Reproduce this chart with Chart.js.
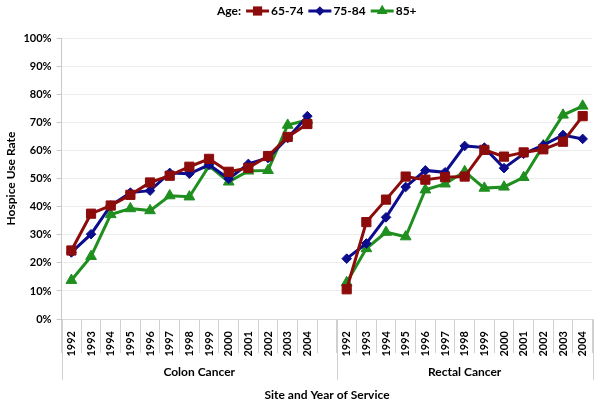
<!DOCTYPE html>
<html>
<head>
<meta charset="utf-8">
<script src="https://cdn.jsdelivr.net/npm/chart.js@4.4.0/dist/chart.umd.min.js"></script>
<style>
  html, body { margin: 0; padding: 0; background: #fff; }
  #wrap { width: 600px; height: 406px; position: relative; }
</style>
</head>
<body>
<div id="wrap"><canvas id="hospice-chart"></canvas></div>
<script>
// Years shown under each cancer site
const years = ['1992', '1993', '1994', '1995', '1996', '1997', '1998', '1999', '2000', '2001', '2002', '2003', '2004'];
const sites = ['Colon Cancer', 'Rectal Cancer'];
const ageGroups = ['65-74', '75-84', '85+'];
const yTicks = [0, 10, 20, 30, 40, 50, 60, 70, 80, 90, 100];

// Hospice use rate (%) by age group
const colon6574 = [24.4, 37.5, 40.4, 44.2, 48.6, 51.0, 54.2, 57.0, 52.4, 53.8, 58.0, 64.8, 69.4];
const colon7584 = [23.7, 30.2, 40.4, 45.0, 45.7, 52.0, 51.7, 54.9, 49.9, 55.2, 57.3, 64.4, 72.2];
const colon85 = [13.8, 22.3, 37.2, 39.3, 38.6, 43.9, 43.5, 54.5, 48.8, 52.7, 52.9, 69.0, 70.8];
const rectal6574 = [10.6, 34.5, 42.5, 50.7, 49.6, 50.5, 50.7, 60.2, 57.8, 59.3, 60.4, 63.1, 72.2];
const rectal7584 = [21.5, 26.9, 36.2, 47.0, 52.9, 52.2, 61.6, 61.0, 53.7, 58.8, 61.9, 65.5, 64.1];
const rectal85 = [13.0, 25.1, 30.9, 29.3, 46.0, 48.1, 52.5, 46.6, 47.0, 50.4, 61.7, 72.6, 75.8];

const colors = ['#8c0c0c', '#0c0c8c', '#1f8f1f'];
const shapes = ['rect', 'rectRot', 'triangle'];
const radii = [6.5, 4.8, 6.2];

// one empty slot between the two sites so the lines break
const labels = years.concat(['']).concat(years);
const joinSites = (a, b) => a.concat([null]).concat(b);
const seriesData = [
    joinSites(colon6574, rectal6574),
    joinSites(colon7584, rectal7584),
    joinSites(colon85, rectal85)
];

const FONT = 'Lato';

function drawMarker(ctx, shape, x, y, r) {
    ctx.beginPath();
    if (shape === 'rect') {
        const s = Math.SQRT1_2 * r;
        ctx.rect(x - s, y - s, 2 * s, 2 * s);
    } else if (shape === 'rectRot') {
        ctx.moveTo(x, y - r); ctx.lineTo(x + r, y); ctx.lineTo(x, y + r); ctx.lineTo(x - r, y);
        ctx.closePath();
    } else {
        ctx.moveTo(x, y - r);
        ctx.lineTo(x + r * 0.866, y + r * 0.5);
        ctx.lineTo(x - r * 0.866, y + r * 0.5);
        ctx.closePath();
    }
    ctx.fill();
}

// site labels, long separators and the "Age:" legend
const extrasPlugin = {
    id: 'extras',
    afterDraw(chart) {
        const ctx = chart.ctx;
        const area = chart.chartArea;
        const x = chart.scales.x;
        const half = (x.getPixelForValue(1) - x.getPixelForValue(0)) / 2;
        const cuts = [area.left, x.getPixelForValue(years.length) + half, area.right];

        ctx.save();
        ctx.strokeStyle = '#d0d0d0';
        ctx.lineWidth = 1;
        cuts.forEach(px => {
            ctx.beginPath();
            ctx.moveTo(Math.round(px) + 0.5, area.bottom);
            ctx.lineTo(Math.round(px) + 0.5, area.bottom + 61);
            ctx.stroke();
        });

        ctx.fillStyle = '#000';
        ctx.font = 'bold 12px ' + FONT;
        ctx.textAlign = 'center';
        ctx.textBaseline = 'middle';
        sites.forEach((s, i) => {
            ctx.fillText(s, (cuts[i] + cuts[i + 1]) / 2, area.bottom + 53);
        });

        // legend
        ctx.textAlign = 'left';
        let lx = 217;
        const ly = 11;
        ctx.fillText('Age:', lx, ly);
        lx += ctx.measureText('Age:').width + 5;
        ageGroups.forEach((g, i) => {
            ctx.strokeStyle = colors[i];
            ctx.fillStyle = colors[i];
            ctx.lineWidth = 3;
            ctx.beginPath();
            ctx.moveTo(lx, ly);
            ctx.lineTo(lx + 23, ly);
            ctx.stroke();
            drawMarker(ctx, shapes[i], lx + 11.5, ly, radii[i]);
            lx += 25;
            ctx.fillStyle = '#000';
            ctx.fillText(g, lx, ly);
            lx += ctx.measureText(g).width + 5;
        });
        ctx.restore();
    }
};

const ctx = document.getElementById('hospice-chart').getContext('2d');
const hospiceChart = new Chart(ctx, {
    type: 'line',
    data: {
        labels: labels,
        datasets: ageGroups.map((g, i) => ({
            label: g,
            data: seriesData[i],
            borderColor: colors[i],
            backgroundColor: colors[i],
            borderWidth: 3,
            pointStyle: shapes[i],
            pointRadius: radii[i],
            pointBorderWidth: 1,
            pointHoverRadius: radii[i],
            spanGaps: false,
            tension: 0
        }))
    },
    options: {
        responsive: true,
        maintainAspectRatio: false,
        animation: false,
        layout: { padding: { top: 38, left: 4, right: 7, bottom: 0 } },
        plugins: {
            legend: { display: false },
            tooltip: { enabled: false }
        },
        scales: {
            x: {
                offset: true,
                grid: {
                    offset: true,
                    drawOnChartArea: false,
                    tickLength: 34,
                    color: '#d0d0d0'
                },
                border: { color: '#d9d9d9' },
                ticks: {
                    autoSkip: false,
                    maxRotation: 90,
                    minRotation: 90,
                    padding: -22,
                    color: '#000',
                    font: { family: FONT, size: 11, weight: 'bold' }
                },
                title: {
                    display: true,
                    text: 'Site and Year of Service',
                    color: '#000',
                    font: { family: FONT, size: 12, weight: 'bold' },
                    padding: { top: 53, bottom: 4 }
                }
            },
            y: {
                min: 0,
                max: 100,
                afterBuildTicks: axis => { axis.ticks = yTicks.map(v => ({ value: v })); },
                grid: {
                    color: '#ececec',
                    tickColor: '#c8c8c8',
                    tickLength: 5
                },
                border: { color: '#c8c8c8' },
                ticks: {
                    padding: 5,
                    color: '#000',
                    font: { family: FONT, size: 11, weight: 'bold' },
                    callback: v => v + '%'
                },
                title: {
                    display: true,
                    text: 'Hospice Use Rate',
                    color: '#000',
                    font: { family: FONT, size: 12, weight: 'bold' },
                    padding: { top: 0, bottom: 0 }
                }
            }
        }
    },
    plugins: [extrasPlugin]
});
</script>
</body>
</html>
